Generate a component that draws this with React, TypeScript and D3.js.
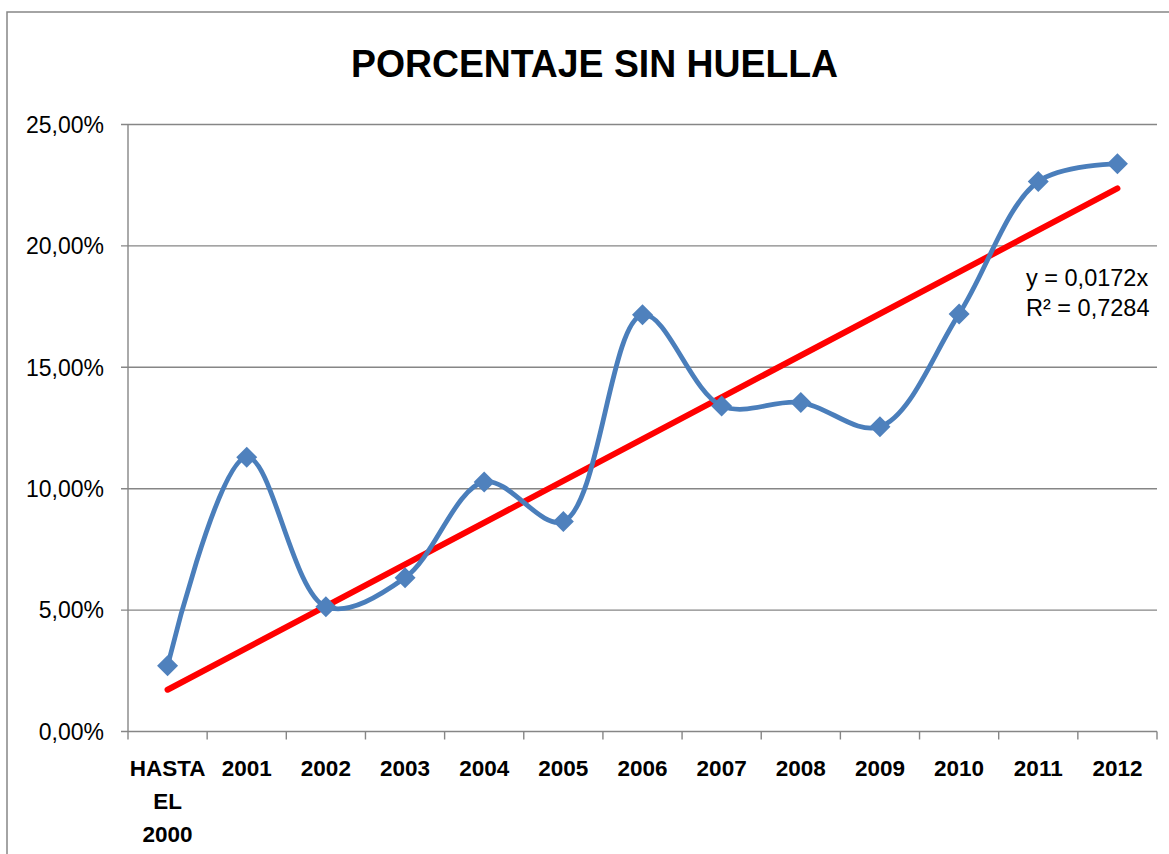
import React, { useEffect, useRef } from "react";
import * as d3 from "d3";

const categories = ["HASTA EL 2000", "2001", "2002", "2003", "2004", "2005", "2006", "2007", "2008", "2009", "2010", "2011", "2012"];
const sinHuella = [2.71, 11.3, 5.14, 6.33, 10.28, 8.65, 17.16, 13.41, 13.55, 12.55, 17.2, 22.65, 23.38];
const yTicks = [0, 5, 10, 15, 20, 25];
const titleText = "PORCENTAJE SIN HUELLA";
const eqLines = ["y = 0,0172x", "R² = 0,7284"];

const W = 1169;
const H = 854;
const margin = { l: 128, r: 12, t: 124.5, b: 122.5 };

export default function App() {
  const ref = useRef<SVGSVGElement>(null);

  useEffect(() => {
    document.body.style.margin = "0";
    const svg = d3.select(ref.current);
    svg.selectAll("*").remove();

    svg.append("rect").attr("width", W).attr("height", H).attr("fill", "#fff");
    // chart area border
    svg
      .append("rect")
      .attr("x", 7)
      .attr("y", 12)
      .attr("width", W + 20)
      .attr("height", H + 20)
      .attr("fill", "none")
      .attr("stroke", "#868686")
      .attr("stroke-width", 1.5);

    var x = d3.scaleBand().domain(categories).range([margin.l, W - margin.r]);
    var y = d3.scaleLinear().domain([0, 25]).range([H - margin.b, margin.t]);
    var cx = (c: string) => (x(c) ?? 0) + x.bandwidth() / 2;

    // gridlines
    svg
      .append("g")
      .selectAll("line")
      .data(yTicks)
      .join("line")
      .attr("x1", margin.l - 7)
      .attr("x2", W - margin.r)
      .attr("y1", (d) => y(d))
      .attr("y2", (d) => y(d))
      .attr("stroke", "#868686")
      .attr("stroke-width", 1.4);

    // y axis line
    svg
      .append("line")
      .attr("x1", margin.l)
      .attr("x2", margin.l)
      .attr("y1", y(25))
      .attr("y2", y(0))
      .attr("stroke", "#868686")
      .attr("stroke-width", 1.4);

    // x ticks at category boundaries
    var bounds = categories.map((c) => x(c) ?? 0).concat([W - margin.r]);
    svg
      .append("g")
      .selectAll("line")
      .data(bounds)
      .join("line")
      .attr("x1", (d) => d)
      .attr("x2", (d) => d)
      .attr("y1", y(0))
      .attr("y2", y(0) + 8)
      .attr("stroke", "#868686")
      .attr("stroke-width", 1.4);

    // y tick labels
    svg
      .append("g")
      .selectAll("text")
      .data(yTicks)
      .join("text")
      .attr("x", 104)
      .attr("y", (d) => y(d))
      .attr("dy", "0.36em")
      .attr("text-anchor", "end")
      .attr("font-family", "Liberation Sans, Arial, sans-serif")
      .attr("font-size", 23)
      .attr("fill", "#000")
      .text((d) => d3.format(".2f")(d).replace(".", ",") + "%");

    // x tick labels (split into lines)
    var xl = svg
      .append("g")
      .selectAll("text")
      .data(categories)
      .join("text")
      .attr("text-anchor", "middle")
      .attr("font-family", "Liberation Sans, Arial, sans-serif")
      .attr("font-weight", "bold")
      .attr("font-size", 22.5)
      .attr("fill", "#000");
    xl.each(function (c) {
      var words = c.split(" ");
      var t = d3.select(this);
      words.forEach((w, i) => {
        t.append("tspan")
          .attr("x", cx(c))
          .attr("y", 768 + i * 33)
          .attr("dy", "0.36em")
          .text(w);
      });
    });

    // trendline, regression through origin
    var xs = categories.map((_, i) => i + 1);
    var slope = d3.sum(xs, (v, i) => v * sinHuella[i]) / d3.sum(xs, (v) => v * v);
    var first = categories[0];
    var last = categories[categories.length - 1];
    svg
      .append("line")
      .attr("x1", cx(first))
      .attr("y1", y(slope * 1))
      .attr("x2", cx(last))
      .attr("y2", y(slope * categories.length))
      .attr("stroke", "#FF0000")
      .attr("stroke-width", 6)
      .attr("stroke-linecap", "round");

    // smoothed series line
    var line = d3
      .line<number>()
      .x((_, i) => cx(categories[i]))
      .y((d) => y(d))
      .curve(d3.curveCatmullRom.alpha(0.5));
    svg
      .append("path")
      .datum(sinHuella)
      .attr("d", line)
      .attr("fill", "none")
      .attr("stroke", "#4A7EBB")
      .attr("stroke-width", 4.8)
      .attr("stroke-linejoin", "round");

    // diamond markers
    var r = 10.5;
    svg
      .append("g")
      .selectAll("path")
      .data(sinHuella)
      .join("path")
      .attr("transform", (d, i) => `translate(${cx(categories[i])},${y(d)})`)
      .attr("d", `M0,${-r}L${r},0L0,${r}L${-r},0Z`)
      .attr("fill", "#4F81BD");

    // title
    svg
      .append("text")
      .attr("x", 594.5)
      .attr("y", 76.5)
      .attr("text-anchor", "middle")
      .attr("font-family", "Liberation Sans, Arial, sans-serif")
      .attr("font-weight", "bold")
      .attr("font-size", 38)
      .attr("textLength", 487)
      .attr("lengthAdjust", "spacingAndGlyphs")
      .attr("fill", "#000")
      .text(titleText);

    // trendline equation
    svg
      .append("g")
      .selectAll("text")
      .data(eqLines)
      .join("text")
      .attr("x", 1026)
      .attr("y", (_, i) => 278 + i * 30)
      .attr("dy", "0.36em")
      .attr("font-family", "Liberation Sans, Arial, sans-serif")
      .attr("font-size", 23.5)
      .attr("fill", "#000")
      .text((d) => d);
  }, []);

  return (
    <svg ref={ref} width={W} height={H} style={{ display: "block", position: "absolute", left: 0, top: 0 }} />
  );
}
